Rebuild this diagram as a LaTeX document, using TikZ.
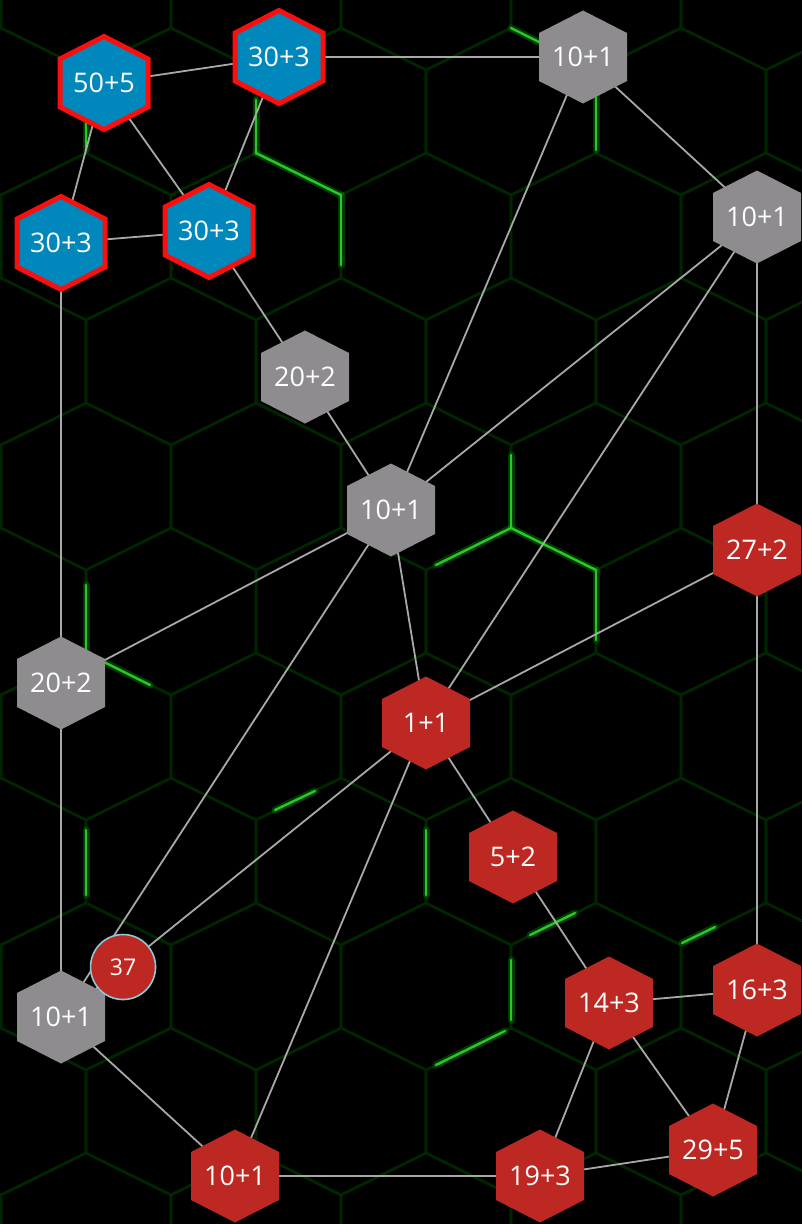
\documentclass[tikz,border=0pt]{standalone}
\usepackage{fontspec}
\setmainfont{Open Sans}
\usetikzlibrary{calc}
\definecolor{tilegray}{RGB}{142,140,143}
\definecolor{tileblue}{RGB}{0,136,188}
\definecolor{tilered}{RGB}{190,40,35}
\definecolor{rimred}{RGB}{250,15,15}
\definecolor{linkgray}{RGB}{168,168,168}
\definecolor{griddim}{RGB}{0,38,0}
\definecolor{gridhalo}{RGB}{0,120,0}
\definecolor{gridglow}{RGB}{40,200,40}
\definecolor{ringcyan}{RGB}{140,200,214}
\pgfdeclarelayer{grid}
\pgfdeclarelayer{links}
\pgfdeclarelayer{tiles}
\pgfsetlayers{grid,links,tiles,main}

\begin{document}
\begin{tikzpicture}[
x=1pt, y=-1pt,
font=\fontsize{27}{30}\selectfont,
cell/.style={circle, inner sep=0pt, minimum size=80pt, text=white},
coin/.style={circle, draw=ringcyan, line width=1.6pt, fill=tilered, minimum size=65pt, inner sep=0pt, text=white, font=\fontsize{23}{26}\selectfont},
link/.style={draw=linkgray, line width=1.8pt},
gridline/.style={draw=griddim, line width=2.6pt},
glow/.style={draw=gridglow, line width=2.4pt, line cap=round},
halo/.style={draw=gridhalo, line width=7pt, line cap=round, opacity=0.45},
rim/.style={draw=rimred, line width=5pt, line join=miter}
]
\useasboundingbox (0,0) rectangle (802,1224);

% background grid
\begin{pgfonlayer}{grid}
\fill[black] (0,0) rectangle (802,1224);
\begin{scope}
\clip (0,0) rectangle (802,1224);
\foreach \j in {-6,...,6} {
  \foreach \k in {-4,...,3} {
    \pgfmathsetmacro{\cx}{511+85*(2*\k+abs(mod(\j,2)))}
    \pgfmathsetmacro{\cy}{611.5+125*\j}
    \draw[gridline, shift={(\cx,\cy)}] (0,-83.5) -- (85,-41.5) -- (85,41.5) -- (0,83.5) -- (-85,41.5) -- (-85,-41.5) -- cycle;
  }
}
\foreach \a/\b in {{(256,153)}/{(341,195)}, {(341,195)}/{(341,265)}, {(256,153)}/{(256,100)},
  {(86,150)}/{(86,110)}, {(596,90)}/{(596,150)}, {(511,28)}/{(545,45)},
  {(511,528)}/{(511,455)}, {(511,528)}/{(436,565)}, {(511,528)}/{(596,570)}, {(596,570)}/{(596,640)},
  {(86,585)}/{(86,650)}, {(100,660)}/{(150,685)}, {(426,830)}/{(426,895)}, {(86,830)}/{(86,895)},
  {(505,1031)}/{(436,1065)}, {(511,960)}/{(511,1020)}, {(530,935)}/{(575,913)}, {(275,810)}/{(315,791)},
  {(682,943)}/{(715,927)}}
  \draw[halo] \a -- \b;
\foreach \a/\b in {{(256,153)}/{(341,195)}, {(341,195)}/{(341,265)}, {(256,153)}/{(256,100)},
  {(86,150)}/{(86,110)}, {(596,90)}/{(596,150)}, {(511,28)}/{(545,45)},
  {(511,528)}/{(511,455)}, {(511,528)}/{(436,565)}, {(511,528)}/{(596,570)}, {(596,570)}/{(596,640)},
  {(86,585)}/{(86,650)}, {(100,660)}/{(150,685)}, {(426,830)}/{(426,895)}, {(86,830)}/{(86,895)},
  {(505,1031)}/{(436,1065)}, {(511,960)}/{(511,1020)}, {(530,935)}/{(575,913)}, {(275,810)}/{(315,791)},
  {(682,943)}/{(715,927)}}
  \draw[glow] \a -- \b;
\end{scope}
\end{pgfonlayer}

\node[cell] (b1) at (104,83) {50+5};
\node[cell] (b2) at (279,57) {30+3};
\node[cell] (b3) at (61,243) {30+3};
\node[cell] (b4) at (209,231) {30+3};
\node[cell] (g1) at (583,57) {10+1};
\node[cell] (g2) at (757,217) {10+1};
\node[cell] (g3) at (305,377) {20+2};
\node[cell] (g4) at (391,510) {10+1};
\node[cell] (g5) at (61,683) {20+2};
\node[cell] (g6) at (61,1017) {10+1};
\node[cell] (r1) at (757,550) {27+2};
\node[cell] (r2) at (426,723) {1+1};
\node[cell] (r3) at (513,857) {5+2};
\node[cell] (r4) at (609,1003) {14+3};
\node[cell] (r5) at (757,990) {16+3};
\node[cell] (r6) at (713,1150) {29+5};
\node[cell] (r7) at (235,1176) {10+1};
\node[cell] (r8) at (540,1176) {19+3};
\node[coin] (c1) at ($(r2)!0.83!(g6)$) {37};

\begin{pgfonlayer}{links}
\foreach \a/\b in {b1/b2, b1/b3, b1/b4, b2/b4, b2/g1, b3/b4, b3/g5, b4/g3,
  g1/g2, g1/g4, g2/g4, g2/r2, g2/r1, g3/g4, g4/g5, g4/r2, g4/g6, g5/g6,
  r1/r2, r1/r5, r2/g6, r2/r3, r2/r7, r3/r4, g6/r7, r4/r5, r4/r8, r4/r6,
  r5/r6, r7/r8, r8/r6}
  \draw[link] (\a) -- (\b);
\end{pgfonlayer}

\begin{pgfonlayer}{tiles}
\foreach \n/\c in {g1/tilegray, g2/tilegray, g3/tilegray, g4/tilegray, g5/tilegray, g6/tilegray,
  r1/tilered, r2/tilered, r3/tilered, r4/tilered, r5/tilered, r6/tilered, r7/tilered, r8/tilered}
  \fill[fill=\c, shift={(\n.center)}] (0,-46.5) -- (44,-24) -- (44,24) -- (0,46.5) -- (-44,24) -- (-44,-24) -- cycle;
\foreach \n in {b1, b2, b3, b4}
  \filldraw[rim, fill=tileblue, shift={(\n.center)}] (0,-46.5) -- (44,-24) -- (44,24) -- (0,46.5) -- (-44,24) -- (-44,-24) -- cycle;
\end{pgfonlayer}
\end{tikzpicture}
\end{document}
